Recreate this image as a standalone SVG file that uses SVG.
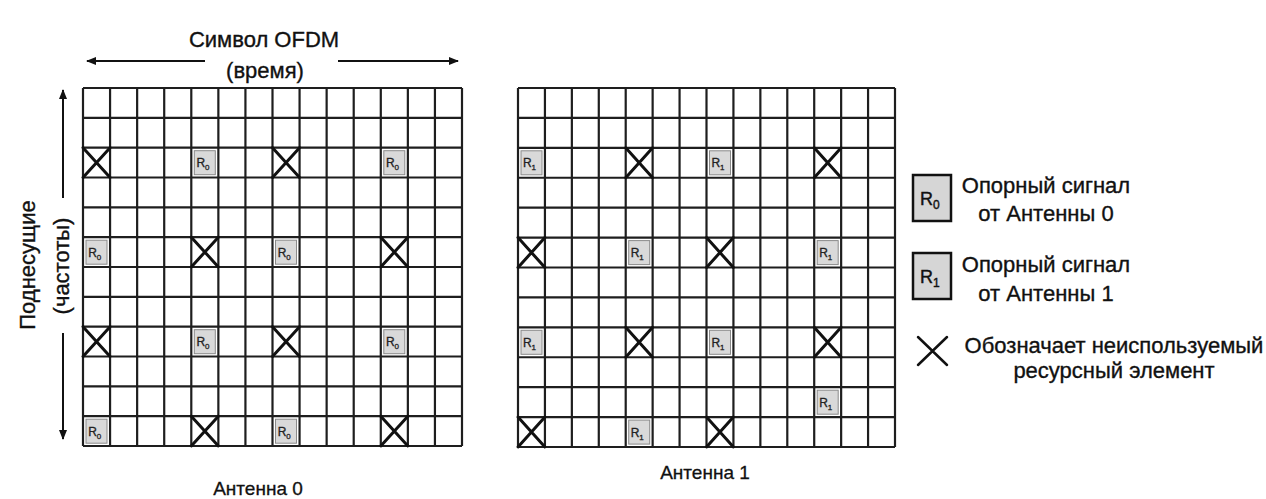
<svg xmlns="http://www.w3.org/2000/svg" width="1266" height="499" viewBox="0 0 1266 499">
<style>
  .grid{fill:none;stroke:#1e1e1e;stroke-width:2.2}
  .x{fill:none;stroke:#111;stroke-width:3;stroke-linecap:round}
  .ref{fill:#d9d9d9;stroke:#8a8a8a;stroke-width:1}
  .rt{font-family:"Liberation Sans",Arial,sans-serif;font-size:12px;fill:#222;stroke:#222;stroke-width:0.3;text-anchor:middle}
  .rs{font-size:8px}
  .lbl{font-family:"Liberation Sans",Arial,sans-serif;font-size:22px;fill:#111;stroke:#111;stroke-width:0.35;text-anchor:middle}
  .ant{font-family:"Liberation Sans",Arial,sans-serif;font-size:19px;fill:#111;stroke:#111;stroke-width:0.3;text-anchor:middle}
  .lbox{fill:#d6d6d6;stroke:#111;stroke-width:2.5}
  .lrt{font-family:"Liberation Sans",Arial,sans-serif;font-size:18px;fill:#111;stroke:#111;stroke-width:0.4}
  .arr{fill:none;stroke:#111;stroke-width:2}
</style>
<defs>
  <marker id="ah" viewBox="0 0 10 10" refX="9" refY="5" markerWidth="10" markerHeight="10" markerUnits="userSpaceOnUse" orient="auto">
    <path d="M0 1 L10 5 L0 9 Z" fill="#111"/>
  </marker>
</defs>
<rect width="1266" height="499" fill="#ffffff"/>

<g id="connectors">
  <path class="arr" d="M205 61 H87" marker-end="url(#ah)"/>
  <path class="arr" d="M338 61 H458" marker-end="url(#ah)"/>
  <path class="arr" d="M63 198 V90" marker-end="url(#ah)"/>
  <path class="arr" d="M63 333 V439" marker-end="url(#ah)"/>
</g>

<g id="axis-labels">
  <text class="lbl" x="264" y="47">Символ OFDM</text>
  <text class="lbl" x="265" y="78">(время)</text>
  <text class="lbl" transform="translate(35 265) rotate(-90)">Поднесущие</text>
  <text class="lbl" transform="translate(69 266) rotate(-90)">(частоты)</text>
</g>

<g id="grid-antenna0">
  <path class="grid" d="M83 88V446M110.07 88V446M137.14 88V446M164.21 88V446M191.29 88V446M218.36 88V446M245.43 88V446M272.5 88V446M299.57 88V446M326.64 88V446M353.71 88V446M380.79 88V446M407.86 88V446M434.93 88V446M462 88V446
  M83 88H462M83 117.83H462M83 147.67H462M83 177.5H462M83 207.33H462M83 237.17H462M83 267H462M83 296.83H462M83 326.67H462M83 356.5H462M83 386.33H462M83 416.17H462M83 446H462"/>
  <path class="x" d="M83 147.67L110.07 177.5M110.07 147.67L83 177.5"/>
  <rect class="ref" x="194.3" y="150.7" width="21" height="24"/><text class="rt" x="203" y="167">R<tspan class="rs" dy="3">0</tspan></text>
  <path class="x" d="M272.5 147.67L299.57 177.5M299.57 147.67L272.5 177.5"/>
  <rect class="ref" x="383.8" y="150.7" width="21" height="24"/><text class="rt" x="392.5" y="167">R<tspan class="rs" dy="3">0</tspan></text>
  <rect class="ref" x="86" y="240.2" width="21" height="24"/><text class="rt" x="94.7" y="256.5">R<tspan class="rs" dy="3">0</tspan></text>
  <path class="x" d="M191.29 237.17L218.36 267M218.36 237.17L191.29 267"/>
  <rect class="ref" x="275.5" y="240.2" width="21" height="24"/><text class="rt" x="284.2" y="256.5">R<tspan class="rs" dy="3">0</tspan></text>
  <path class="x" d="M380.79 237.17L407.86 267M407.86 237.17L380.79 267"/>
  <path class="x" d="M83 326.67L110.07 356.5M110.07 326.67L83 356.5"/>
  <rect class="ref" x="194.3" y="329.7" width="21" height="24"/><text class="rt" x="203" y="346">R<tspan class="rs" dy="3">0</tspan></text>
  <path class="x" d="M272.5 326.67L299.57 356.5M299.57 326.67L272.5 356.5"/>
  <rect class="ref" x="383.8" y="329.7" width="21" height="24"/><text class="rt" x="392.5" y="346">R<tspan class="rs" dy="3">0</tspan></text>
  <rect class="ref" x="86" y="419.2" width="21" height="24"/><text class="rt" x="94.7" y="435.5">R<tspan class="rs" dy="3">0</tspan></text>
  <path class="x" d="M191.29 416.17L218.36 446M218.36 416.17L191.29 446"/>
  <rect class="ref" x="275.5" y="419.2" width="21" height="24"/><text class="rt" x="284.2" y="435.5">R<tspan class="rs" dy="3">0</tspan></text>
  <path class="x" d="M380.79 416.17L407.86 446M407.86 416.17L380.79 446"/>
</g>

<g id="grid-antenna1">
  <path class="grid" d="M518 88V447M544.93 88V447M571.86 88V447M598.79 88V447M625.71 88V447M652.64 88V447M679.57 88V447M706.5 88V447M733.43 88V447M760.36 88V447M787.29 88V447M814.21 88V447M841.14 88V447M868.07 88V447M895 88V447
  M518 88H895M518 117.92H895M518 147.83H895M518 177.75H895M518 207.67H895M518 237.58H895M518 267.5H895M518 297.42H895M518 327.33H895M518 357.25H895M518 387.17H895M518 417.08H895M518 447H895"/>
  <rect class="ref" x="521" y="150.8" width="21" height="24"/><text class="rt" x="529.5" y="167">R<tspan class="rs" dy="3">1</tspan></text>
  <path class="x" d="M625.71 147.83L652.64 177.75M652.64 147.83L625.71 177.75"/>
  <rect class="ref" x="709.5" y="150.8" width="21" height="24"/><text class="rt" x="718" y="167">R<tspan class="rs" dy="3">1</tspan></text>
  <path class="x" d="M814.21 147.83L841.14 177.75M841.14 147.83L814.21 177.75"/>
  <path class="x" d="M518 237.58L544.93 267.5M544.93 237.58L518 267.5"/>
  <rect class="ref" x="628.7" y="240.6" width="21" height="24"/><text class="rt" x="637.2" y="257">R<tspan class="rs" dy="3">1</tspan></text>
  <path class="x" d="M706.5 237.58L733.43 267.5M733.43 237.58L706.5 267.5"/>
  <rect class="ref" x="817.2" y="240.6" width="21" height="24"/><text class="rt" x="825.7" y="257">R<tspan class="rs" dy="3">1</tspan></text>
  <rect class="ref" x="521" y="330.3" width="21" height="24"/><text class="rt" x="529.5" y="346.5">R<tspan class="rs" dy="3">1</tspan></text>
  <path class="x" d="M625.71 327.33L652.64 357.25M652.64 327.33L625.71 357.25"/>
  <rect class="ref" x="709.5" y="330.3" width="21" height="24"/><text class="rt" x="718" y="346.5">R<tspan class="rs" dy="3">1</tspan></text>
  <path class="x" d="M814.21 327.33L841.14 357.25M841.14 327.33L814.21 357.25"/>
  <rect class="ref" x="817.2" y="390.2" width="21" height="24"/><text class="rt" x="825.7" y="406.5">R<tspan class="rs" dy="3">1</tspan></text>
  <path class="x" d="M518 417.08L544.93 447M544.93 417.08L518 447"/>
  <rect class="ref" x="628.7" y="420.1" width="21" height="24"/><text class="rt" x="637.2" y="436.5">R<tspan class="rs" dy="3">1</tspan></text>
  <path class="x" d="M706.5 417.08L733.43 447M733.43 417.08L706.5 447"/>
</g>

<g id="antenna-labels">
  <text class="ant" x="258" y="495">Антенна 0</text>
  <text class="ant" x="705" y="479">Антенна 1</text>
</g>

<g id="legend-r0">
  <rect class="lbox" x="913" y="175" width="38" height="46"/>
  <text class="lrt" x="920" y="205">R<tspan font-size="12" dy="4">0</tspan></text>
  <text class="lbl" x="1046" y="193">Опорный сигнал</text>
  <text class="lbl" x="1046" y="221">от Антенны 0</text>
</g>

<g id="legend-r1">
  <rect class="lbox" x="913" y="253" width="38" height="46"/>
  <text class="lrt" x="920" y="283">R<tspan font-size="12" dy="4">1</tspan></text>
  <text class="lbl" x="1046" y="272">Опорный сигнал</text>
  <text class="lbl" x="1046" y="301">от Антенны 1</text>
</g>

<g id="legend-x">
  <path class="x" d="M918 337L947 365M947 337L918 365" style="stroke-width:2.5"/>
  <text class="lbl" x="1114" y="353">Обозначает неиспользуемый</text>
  <text class="lbl" x="1114" y="378">ресурсный элемент</text>
</g>
</svg>
